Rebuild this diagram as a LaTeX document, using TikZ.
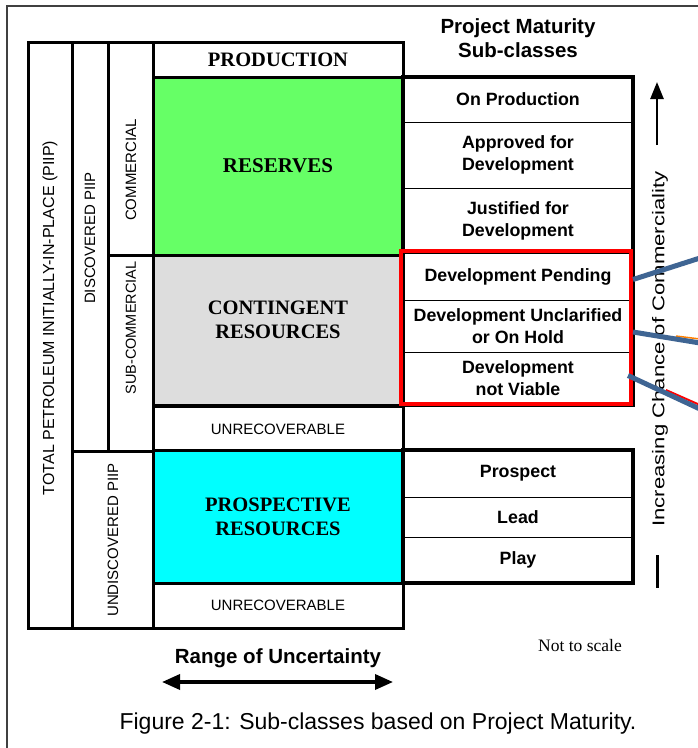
\documentclass[tikz,border=0pt]{standalone}
\usepackage{fontspec}
\setmainfont{Liberation Sans}
\newfontfamily\timesfont{Liberation Serif}
\usetikzlibrary{arrows.meta}
\definecolor{resgreen}{HTML}{66FF66}
\definecolor{contgray}{HTML}{DDDDDD}
\definecolor{prospcyan}{HTML}{00FFFF}
\definecolor{leaderblue}{HTML}{3F6593}
\begin{document}
\begin{tikzpicture}[x=1pt,y=-1pt]
        \tikzstyle{block}=[draw=black,line width=3pt,inner sep=0pt,outer sep=0pt]
        \tikzstyle{subclass}=[draw=black,line width=1pt,inner sep=0pt,outer sep=0pt,minimum width=230pt,align=center,font=\fontsize{17.8}{22}\selectfont\bfseries]
        \tikzstyle{vlabel}=[rotate=90,font=\fontsize{15}{18}\selectfont]
        \tikzstyle{title}=[align=center,font=\timesfont\bfseries\fontsize{20.5}{24}\selectfont]
        \tikzstyle{outline}=[draw=black,line width=3.5pt]
        \tikzstyle{leader}=[draw=leaderblue,line width=5pt]
       \useasboundingbox (0,0) rectangle (698,748);
       \draw[black!75,line width=1.5pt] (7,748) |- (698,6);
       \begin{scope}
         % left columns
         \node[block,minimum width=44pt,minimum height=586pt] (piip) at (50,335) {};
         \node[block,minimum width=36pt,minimum height=409pt] (disc) at (90,246.5) {};
         \node[block,minimum width=81pt,minimum height=177pt] (undisc) at (112.5,539.5) {};
         \node[block,minimum width=45pt,minimum height=213pt] (comm) at (130.5,148.5) {};
         \node[block,minimum width=45pt,minimum height=196pt] (subcomm) at (130.5,353) {};
         \node[vlabel,font=\fontsize{16}{18}\selectfont] (piiptxt) at (50,318) {TOTAL PETROLEUM INITIALLY-IN-PLACE (PIIP)};
         \node[vlabel] (disctxt) at (90,238) {DISCOVERED PIIP};
         \node[vlabel] (undisctxt) at (113,540) {UNDISCOVERED PIIP};
         \node[vlabel] (commtxt) at (131,170) {COMMERCIAL};
         \node[vlabel,font=\fontsize{14.5}{18}\selectfont] (subcommtxt) at (131,328) {SUB-COMMERCIAL};
         % resource classes
         \node[block,minimum width=250pt,minimum height=35pt,font=\timesfont\bfseries\fontsize{20.5}{22}\selectfont] (prod) at (278,59.5) {PRODUCTION};
         \node[block,title,fill=resgreen,minimum width=250pt,minimum height=178pt,font=\timesfont\bfseries\fontsize{21}{24}\selectfont] (reserves) at (278,166) {RESERVES};
         \node[block,fill=contgray,minimum width=250pt,minimum height=150pt] (contingent) at (278,330) {};
         \node[title] (contingenttxt) at (278,320) {CONTINGENT\\RESOURCES};
         \node[block,minimum width=250pt,minimum height=45pt,font=\fontsize{15}{18}\selectfont] (unrecA) at (278,429) {UNRECOVERABLE};
         \node[block,title,fill=prospcyan,minimum width=250pt,minimum height=133pt] (prospective) at (278,516.5) {PROSPECTIVE\\RESOURCES};
         \node[block,minimum width=250pt,minimum height=45pt,font=\fontsize{15}{18}\selectfont] (unrecB) at (278,605.5) {UNRECOVERABLE};
         % sub-classes
         \node[font=\bfseries\fontsize{20.5}{24}\selectfont,align=center] (maturity) at (518,38) {Project Maturity\\Sub-classes};
         \node[subclass,minimum height=45pt] (onprod) at (518,99.5) {On Production};
         \node[subclass,minimum height=66pt] (approved) at (518,155) {Approved for\\Development};
         \node[subclass,minimum height=65pt] (justified) at (518,220.5) {Justified for\\Development};
         \node[subclass,minimum height=47pt] (pending) at (518,276.5) {Development Pending};
         \node[subclass,minimum height=52pt] (unclar) at (518,326) {Development Unclarified\\or On Hold};
         \node[subclass,minimum height=53pt] (notviable) at (518,378.5) {Development\\not Viable};
         \node[subclass,minimum height=47pt] (prospect) at (518,473.5) {Prospect};
         \node[subclass,minimum height=40pt] (lead) at (518,517) {Lead};
         \node[subclass,minimum height=46pt] (play) at (518,560) {Play};
         \draw[outline] (onprod.north west) rectangle (notviable.south east);
         \draw[outline] (prospect.north west) rectangle (play.south east);
         \draw[red,line width=4pt] ([shift={(-2pt,2pt)}]pending.north west) rectangle ([shift={(-2pt,1pt)}]notviable.south east);
         % commerciality axis
         \coordinate (upbot) at (657,145);
         \coordinate (uptop) at (657,82);
         \draw[line width=2.5pt,-{Triangle[length=17pt,width=13pt]}] (upbot) -- (uptop);
         \coordinate (barA) at (657,555);
         \coordinate (barB) at (657,588);
         \draw[line width=3pt] (barA) -- (barB);
         \node[rotate=90,font=\fontsize{17}{20}\selectfont] (chance) at (660,349) {\scalebox{1.3}[1]{Increasing Chance of Commerciality}};
         % leaders
         \coordinate (orA) at (676,336);
         \coordinate (orB) at (700,339);
         \coordinate (rdA) at (666,390);
         \coordinate (rdB) at (700,405);
         \draw[orange,line width=1.5pt] (orA) -- (orB);
         \draw[red,line width=2pt] (rdA) -- (rdB);
         \coordinate (leadA) at (700,258);
         \coordinate (leadB) at (700,343);
         \coordinate (leadC) at (700,409);
         \path[leader] ([yshift=-3pt]pending.east) -- (leadA);
         \path[leader] ([yshift=-6pt]unclar.east) -- (leadB);
         \path[leader] ([xshift=-5pt,yshift=3pt]notviable.east) -- (leadC);
         % uncertainty
         \node[font=\bfseries\fontsize{20.5}{24}\selectfont,anchor=base] (range) at (278,663) {Range of Uncertainty};
         \coordinate (rangeL) at (162,682);
         \coordinate (rangeR) at (393,682);
         \draw[line width=3.5pt,{Triangle[length=18pt,width=15pt]}-{Triangle[length=18pt,width=15pt]}] (rangeL) -- (rangeR);
         \node[font=\timesfont\fontsize{17.5}{20}\selectfont,anchor=base] (noscale) at (580,651) {Not to scale};
         \node[font=\fontsize{23}{26}\selectfont,anchor=base] (caption) at (378,729) {Figure 2-1: Sub-classes based on Project Maturity.};
       \end{scope}
\end{tikzpicture}
\end{document}
